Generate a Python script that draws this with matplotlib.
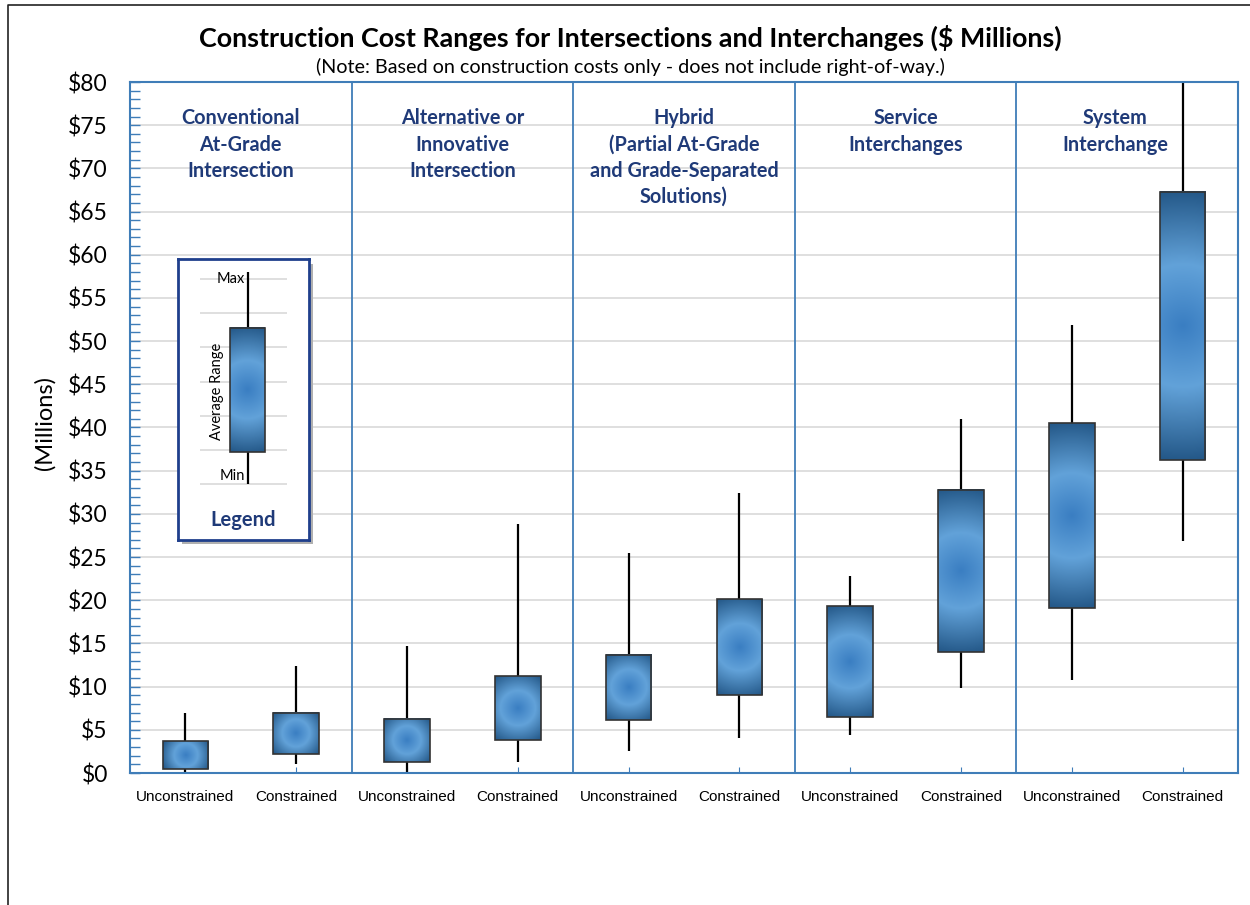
import numpy as np
import matplotlib
matplotlib.use("Agg")
import matplotlib.pyplot as plt
from matplotlib.colors import LinearSegmentedColormap
from matplotlib.patches import Rectangle
from matplotlib.lines import Line2D

# data ($ millions)
groups = ["Conventional\nAt-Grade\nIntersection",
          "Alternative or\nInnovative\nIntersection",
          "Hybrid\n(Partial At-Grade\nand Grade-Separated\nSolutions)",
          "Service\nInterchanges",
          "System\nInterchange"]
scenarios = ["Unconstrained", "Constrained"]
mins = [0.1, 1.0, 0.0, 1.3, 2.5, 4.1, 4.4, 9.8, 10.8, 26.9]
avg_low = [0.5, 2.2, 1.3, 3.8, 6.1, 9.0, 6.5, 14.0, 19.1, 36.2]
avg_high = [3.7, 7.0, 6.3, 11.2, 13.7, 20.1, 19.3, 32.8, 40.5, 67.3]
maxs = [7.0, 12.4, 14.7, 28.8, 25.5, 32.4, 22.8, 41.0, 51.9, 80.0]
yticks = list(range(0, 81, 5))
ytick_labels = ["$%d" % v for v in yticks]

W, H = 1250, 905
NAVY = "#1F3A78"
AXBLUE = "#3F7DB8"
GRID = "#D9D9D9"
main_font = ["Lato", "DejaVu Sans"]
narrow_font = ["Liberation Sans", "DejaVu Sans"]

grad = LinearSegmentedColormap.from_list(
    "box", [(0.0, "#3A7EC2"), (0.45, "#62A2D9"), (1.0, "#235787")])


def px(x0, y0, x1, y1):
    # pixel box (top-left origin) -> figure fraction rect
    return [x0 / W, 1 - y1 / H, (x1 - x0) / W, (y1 - y0) / H]


def gradient_box(ax, xc, half_w, lo, hi, lw=1.2):
    p0 = ax.transData.transform((xc - half_w, lo))
    p1 = ax.transData.transform((xc + half_w, hi))
    wpx = max(int(abs(p1[0] - p0[0])), 2)
    hpx = max(int(abs(p1[1] - p0[1])), 2)
    xx, yy = np.meshgrid(np.linspace(-wpx / 2, wpx / 2, wpx),
                         np.linspace(-hpx / 2, hpx / 2, hpx))
    r = np.sqrt(xx ** 2 + yy ** 2) / np.hypot(wpx / 2, hpx / 2)
    ax.imshow(grad(r), extent=(xc - half_w, xc + half_w, lo, hi),
              aspect="auto", interpolation="bilinear", zorder=3)
    ax.add_patch(Rectangle((xc - half_w, lo), 2 * half_w, hi - lo,
                           fill=False, edgecolor="#333333", lw=lw, zorder=4))


fig = plt.figure(figsize=(W / 100, H / 100), dpi=100)
ax = fig.add_axes(px(130, 82, 1238, 773))

xpos = np.arange(len(mins)) + 0.5
ax.set_xlim(0, 10)
ax.set_ylim(0, 80)

for x, lo, b0, b1, hi in zip(xpos, mins, avg_low, avg_high, maxs):
    ax.vlines(x, lo, hi, color="black", lw=1.6, zorder=2)
    gradient_box(ax, x, 0.205, b0, b1)

# group dividers and headers
for i, g in enumerate(groups):
    if i > 0:
        ax.axvline(2 * i, color=AXBLUE, lw=1.3, zorder=1)
    xc = 2 * i + 1 - (0.11 if i == 4 else 0)
    ax.text(xc, 76.95, g, ha="center", va="top", fontsize=14.3,
            fontweight="bold", color=NAVY, family=main_font, linespacing=1.39)

ax.set_yticks(yticks)
ax.set_yticklabels(ytick_labels, fontsize=16.5, family=main_font)
ax.set_yticks(range(0, 81), minor=True)
ax.yaxis.grid(True, color=GRID, lw=1.2, zorder=0)
ax.set_axisbelow(True)
ax.tick_params(axis="y", which="both", direction="in", length=7,
               color=AXBLUE, width=1, pad=16)
ax.set_xticks(xpos)
ax.set_xticklabels(scenarios * 5, fontsize=11, family=narrow_font)
ax.tick_params(axis="x", direction="in", length=4, color=AXBLUE, pad=12)
for s in ax.spines.values():
    s.set_color(AXBLUE)
    s.set_linewidth(1.5)

fig.text(630 / W, 1 - 38 / H,
         "Construction Cost Ranges for Intersections and Interchanges ($ Millions)",
         ha="center", va="center", fontsize=19.4, fontweight="bold",
         family=main_font)
fig.text(630 / W, 1 - 67 / H,
         "(Note: Based on construction costs only - does not include right-of-way.)",
         ha="center", va="center", fontsize=14.2, family=main_font)
fig.text(45 / W, 1 - 423 / H, "(Millions)", rotation=90, ha="center",
         va="center", fontsize=17, family=main_font)

# outer border
fig.add_artist(Line2D([8 / W, 8 / W, 1], [0, 1 - 5 / H, 1 - 5 / H],
                      color="#222222", lw=1.2))

# legend inset
shadow = Rectangle((182 / W, 1 - 544 / H), 131 / W, 280 / H,
                   transform=fig.transFigure, facecolor="#B0B0B0",
                   edgecolor="none", zorder=5)
fig.add_artist(shadow)
lg = fig.add_axes(px(178, 259, 309, 540))
lg.set_zorder(6)
lg.set_xlim(178, 309)
lg.set_ylim(540, 259)
lg.set_xticks([])
lg.set_yticks([])
for s in lg.spines.values():
    s.set_color("#1F3F8C")
    s.set_linewidth(2)
legend_grid = [279, 313, 347, 382, 416, 450, 484]
for gy in legend_grid:
    lg.hlines(gy, 200, 287, color=GRID, lw=1.2, zorder=1)
lg.vlines(247.5, 272, 484, color="black", lw=1.6, zorder=2)
gradient_box(lg, 247.5, 17.5, 451.5, 327.5, lw=1.2)
lg.text(245, 279, "Max", ha="right", va="center", fontsize=10.5,
        family=main_font, zorder=5)
lg.text(245, 476, "Min", ha="right", va="center", fontsize=10.5,
        family=main_font, zorder=5)
lg.text(217, 391, "Average Range", rotation=90, ha="center", va="center",
        fontsize=10.5, family=main_font, zorder=5)
lg.text(243, 520, "Legend", ha="center", va="center", fontsize=14.5,
        fontweight="bold", color=NAVY, family=main_font)

fig.savefig("out.png", dpi=100)
